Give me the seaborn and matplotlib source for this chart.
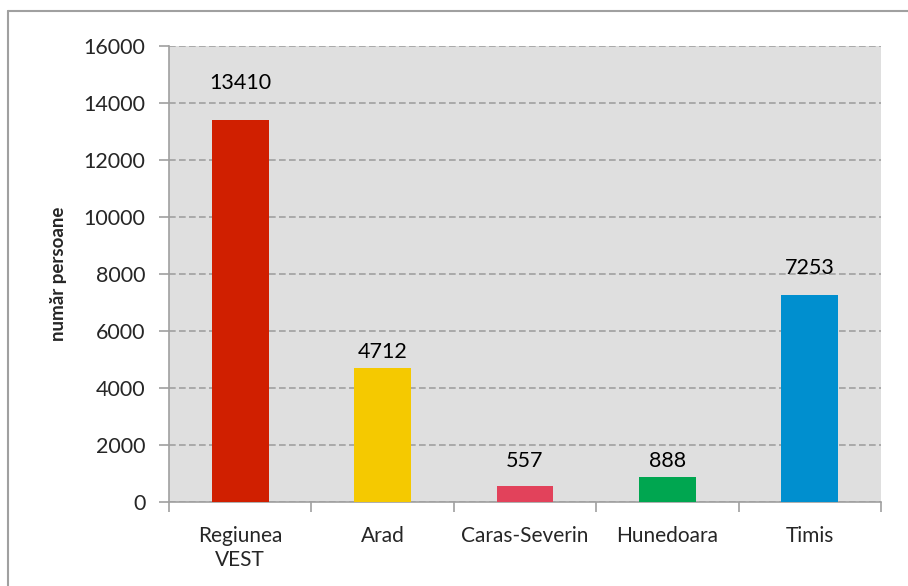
import matplotlib
matplotlib.use("Agg")
import matplotlib.pyplot as plt
import seaborn as sns
import pandas as pd
from matplotlib.lines import Line2D

categories = ["Regiunea\nVEST", "Arad", "Caras-Severin", "Hunedoara", "Timis"]
values = [13410, 4712, 557, 888, 7253]
colors = ["#D01F00", "#F5C900", "#E2425B", "#00A650", "#008FCF"]
y_ticks = [0, 2000, 4000, 6000, 8000, 10000, 12000, 14000, 16000]
y_label = "număr persoane"
# vertical label offsets above bars (data units), as placed in original
label_offsets = [1290, 550, 880, 550, 960]

sns.set_style("white")
plt.rcParams["font.family"] = ["Lato", "DejaVu Sans"]

df = pd.DataFrame({"cat": categories, "val": values})

fig = plt.figure(figsize=(9.08, 5.86), dpi=100)
ax = fig.add_axes([169/908, 1-502/586, (881-169)/908, (502-46)/586])
ax.set_facecolor("#DFDFDF")

sns.barplot(data=df, x="cat", y="val", hue="cat", palette=colors, legend=False,
            width=0.4, ax=ax, saturation=1, zorder=3, edgecolor="none", linewidth=0)

ax.set_ylim(0, 16000)
ax.set_xlim(-0.5, len(categories) - 0.5)
ax.set_yticks(y_ticks)
ax.set_yticklabels([str(t) for t in y_ticks], fontsize=15.5)
ax.yaxis.grid(True, color="#A0A0A0", linestyle=(0, (4, 2)), linewidth=1.2, zorder=1)
ax.set_axisbelow(True)
ax.tick_params(axis="y", length=7, color="#A0A0A0", width=1.2, pad=10, left=True)
ax.set_xticks(range(len(categories)))
ax.set_xticklabels(categories, fontsize=15, linespacing=1.25)
ax.tick_params(axis="x", length=0, pad=17)
# minor ticks between categories
ax.set_xticks([i - 0.5 for i in range(len(categories) + 1)], minor=True)
ax.tick_params(axis="x", which="minor", length=7, color="#A0A0A0", width=1.2, bottom=True)

for s in ["top", "right"]:
    ax.spines[s].set_visible(False)
for s in ["left", "bottom"]:
    ax.spines[s].set_color("#A0A0A0")
    ax.spines[s].set_linewidth(1.2)

ax.set_xlabel("")
ax.set_ylabel(y_label, fontsize=13.5, fontweight="bold", labelpad=12)

for i, (v, off) in enumerate(zip(values, label_offsets)):
    ax.text(i, v + off, str(v), ha="center", va="center", fontsize=15.5, color="#000000")

# outer chart border
fig.add_artist(Line2D([8/908, 8/908], [0, 1-11/586], transform=fig.transFigure, color="#A0A0A0", lw=1.5))
fig.add_artist(Line2D([8/908, 1], [1-11/586, 1-11/586], transform=fig.transFigure, color="#A0A0A0", lw=1.5))

fig.savefig("out.png", dpi=100)
